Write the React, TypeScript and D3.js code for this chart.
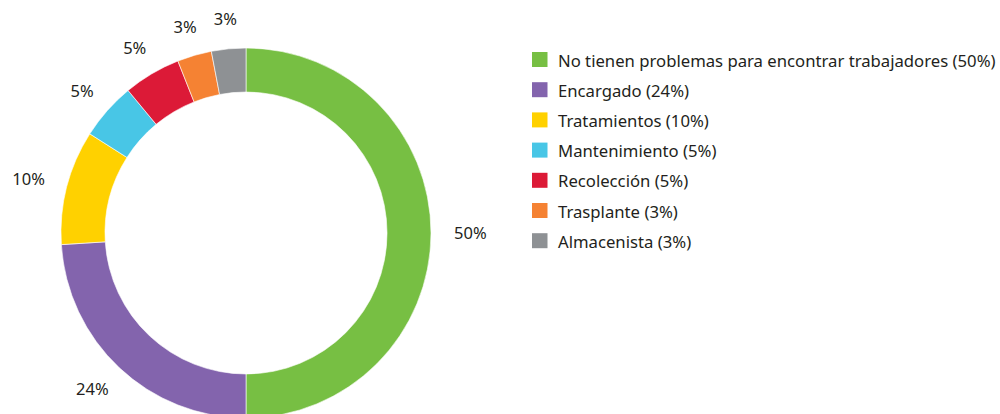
import React from 'react';
import * as d3 from 'd3';

// slice values, clockwise from 12 o'clock
const categories = [
  'No tienen problemas para encontrar trabajadores',
  'Encargado',
  'Tratamientos',
  'Mantenimiento',
  'Recolección',
  'Trasplante',
  'Almacenista',
];
const values = [50, 24, 10, 5, 5, 3, 3];
const colors = ['#77bf43', '#8364ad', '#ffd100', '#48c6e6', '#dc1a37', '#f58233', '#8e9194'];

const W = 1000;
const H = 414;
const FONT = '"Noto Sans", "Open Sans", sans-serif';

export default function App() {
  const cx = 246;
  const cy = 233;
  const outerR = 185;
  const innerR = 141;
  const labelGap = 207; // distance from centre to the near edge of each label box

  const pie = d3.pie<number>().sort(null).value(d => d);
  const arcs = pie(values);
  const arc = d3.arc<d3.PieArcDatum<number>>().innerRadius(innerR).outerRadius(outerR);

  const legendX = 532;
  const legendY = 52;
  const rowH = 30.2;

  return (
    <svg width={W} height={H} style={{ position: 'absolute', left: 0, top: 0 }}>
      <rect width={W} height={H} fill="#fff" />
      <g transform={`translate(${cx},${cy})`}>
        {arcs.map((a, i) => (
          <path key={i} d={arc(a) || ''} fill={colors[i]} stroke="#fff" strokeWidth={0.6} />
        ))}
        {arcs.map((a, i) => {
          const mid = (a.startAngle + a.endAngle) / 2;
          const ux = Math.sin(mid);
          const uy = -Math.cos(mid);
          const label = `${values[i]}%`;
          const hw = label.length * 5.8;
          const hh = 7.5;
          const x = ux * (labelGap + hw);
          const y = uy * (labelGap + hh);
          return (
            <text key={i} x={x} y={y} dy="0.35em" textAnchor="middle"
              fontFamily={FONT} fontSize={16.5} fill="#231f20">
              {label}
            </text>
          );
        })}
      </g>
      <g transform={`translate(${legendX},${legendY})`}>
        {categories.map((c, i) => (
          <g key={i} transform={`translate(0,${i * rowH})`}>
            <rect width={15.5} height={15} fill={colors[i]} />
            <text x={26} y={14.5} fontFamily={FONT} fontSize={16.7} fill="#231f20">
              {c} ({values[i]}%)
            </text>
          </g>
        ))}
      </g>
    </svg>
  );
}
